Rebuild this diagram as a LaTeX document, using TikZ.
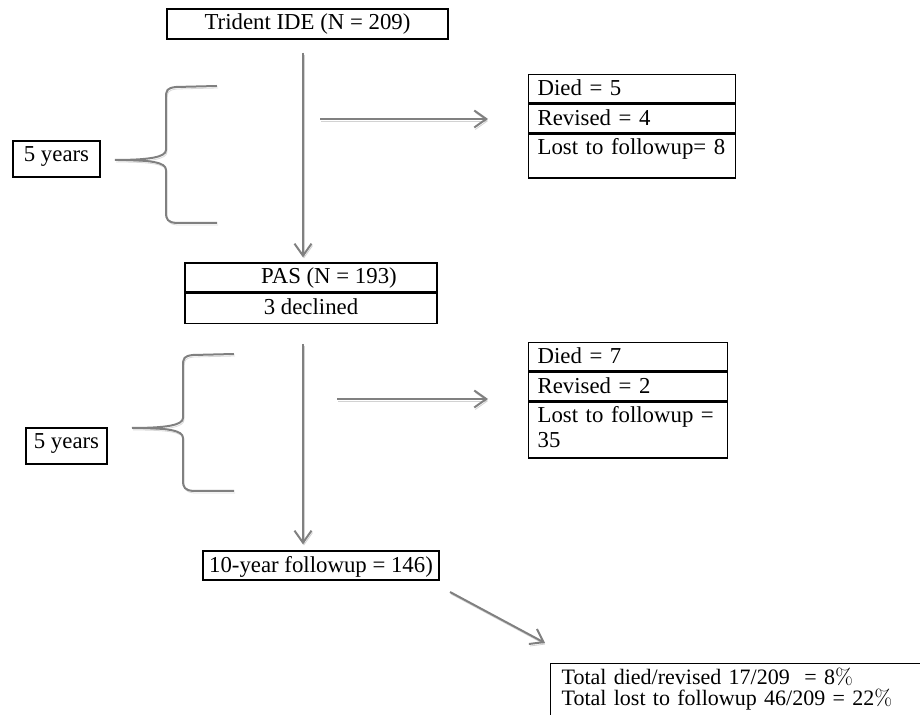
\documentclass[tikz,border=0pt]{standalone}
\usepackage{fontspec}
\setmainfont{Liberation Serif}
\usetikzlibrary{positioning,arrows.meta}
\newcommand{\pct}{{\fontfamily{lmr}\selectfont\%}}
\tikzset{
  box/.style={draw, line width=0.6pt, inner sep=0pt, text height=10.5pt, text depth=4.5pt},
  cell/.style={draw, line width=0.6pt, inner xsep=4.5pt, inner ysep=0pt, text height=10.5pt, text depth=3.75pt, align=left},
  flow/.style={draw=gray, line width=1pt, -{Straight Barb[length=6pt,width=8.5pt]},
    preaction={draw=gray!35, transform canvas={xshift=0.5pt,yshift=-1pt}}},
  bracket/.style={draw=gray, line width=1pt,
    preaction={draw=gray!30, transform canvas={xshift=0.5pt,yshift=-1pt}}},
}
\begin{document}
\begin{tikzpicture}[x=0.5pt,y=-0.5pt,font=\fontsize{11.4}{12.5}\selectfont]
\useasboundingbox (0,0) rectangle (920,715);
% main column
\node[box, minimum width=140.5pt] (ide) at (307.5,24) {Trident IDE (N = 209)};
\node[box, minimum width=126pt, text depth=4pt] (pas) at (311,277.5) {\hspace*{18pt}PAS (N = 193)};
\node[box, minimum width=126pt, below=0pt of pas] (decl) {3 declined};
\node[box, minimum width=118pt, text depth=4pt] (tenyr) at (321,565.5) {10-year followup = 146)};
% time spans
\node[box, minimum width=43.5pt, text depth=7.5pt] (yrsA) at (56.5,159) {5 years};
\node[box, minimum width=40.5pt, text depth=7.5pt] (yrsB) at (66.5,446) {5 years};
% losses
\node[cell, text width=94.5pt, anchor=north west] (diedA) at (528,74) {Died = 5};
\node[cell, text width=94.5pt, below=0pt of diedA] (revA) {Revised = 4};
\node[cell, text width=94.5pt, text depth=11.5pt, below=0pt of revA] (lostA) {Lost to followup= 8};
\node[cell, text width=90.5pt, anchor=north west] (diedB) at (528,342) {Died = 7};
\node[cell, text width=90.5pt, below=0pt of diedB] (revB) {Revised = 2};
\node[cell, text width=90.5pt, text depth=17.5pt, below=0pt of revB] (lostB) {Lost to followup =\\35};
\node[cell, inner xsep=5.5pt, text width=220pt, text depth=40pt, anchor=north west,
  font=\fontsize{11}{10.5}\selectfont] (total) at (550,663)
  {Total died/revised 17/209 \ = 8\pct\\Total lost to followup 46/209 = 22\pct};
% arrows
\coordinate (spine) at (303,0);
\draw[flow, shorten <=6.5pt, shorten >=2.5pt] (ide.south -| spine) -- (pas.north -| spine);
\draw[flow, shorten <=10pt, shorten >=3pt] (decl.south -| spine) -- (tenyr.north -| spine);
\coordinate (hA) at (320,119);
\coordinate (hB) at (337,399);
\draw[flow, shorten >=20pt] (hA) -- (hA -| lostA.west);
\draw[flow, shorten >=20pt] (hB) -- (hB -| lostB.west);
\coordinate (dstart) at (450,592);
\coordinate (dend) at (545,643);
\draw[flow] (dstart) -- (dend);
% braces
\foreach \dx/\dy in {0/0,17/268}
  \draw[bracket, shift={(\dx,\dy)}] (217,86) -- (176,87) .. controls (167,88) and (166,90) .. (166,98)
    -- (166,150) .. controls (166,157) and (150,160) .. (115,160)
    .. controls (150,160) and (166,162) .. (166,170) -- (166,212)
    .. controls (166,220) and (168,222) .. (176,223) -- (217,223);
\end{tikzpicture}
\end{document}
